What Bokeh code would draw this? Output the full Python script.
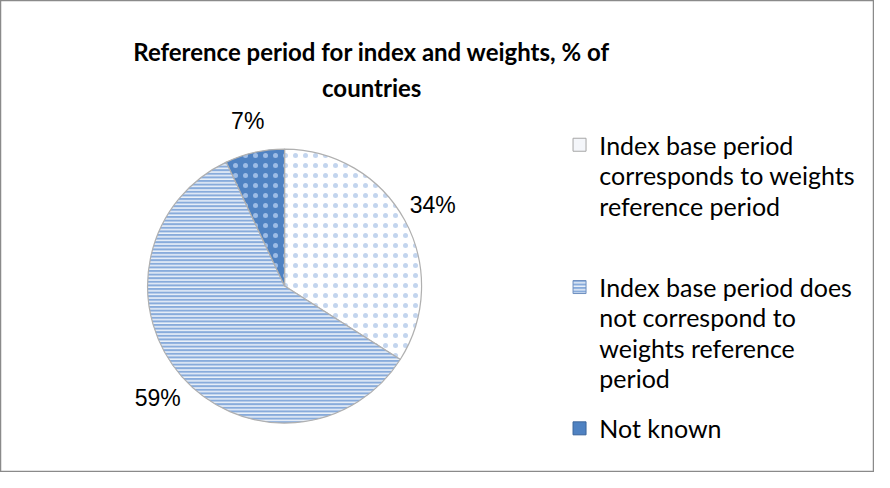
import math
from bokeh.plotting import figure
from bokeh.models import Range1d, ColumnDataSource
from bokeh.core.properties import value
from bokeh.embed import file_html
from bokeh.resources import INLINE

# ---- data ----
categories = [
    "Index base period corresponds to weights reference period",
    "Index base period does not correspond to weights reference period",
    "Not known",
]
shares = [34, 59, 7]
pct_labels = ["34%", "59%", "7%"]
legend_lines = [
    ["Index base period", "corresponds to weights", "reference period"],
    ["Index base period does", "not correspond to", "weights reference", "period"],
    ["Not known"],
]
title_lines = ["Reference period for index and weights, % of", "countries"]

# ---- styles ----
fill_colors = ["#ffffff", "#88abdb", "#4f82c2"]
hatch_patterns = ["dot", "horizontal_line", "dot"]
hatch_colors = ["#c3d5ee", "#ffffff", "#9dbce6"]
hatch_scales = [10, 3.6, 10]
hatch_weights = [1.0, 1.3, 1.0]

W, H = 874, 472
SX, SY = W / 883.0, H / 481.0
def dx(px):
    return (px - 3) * SX
def dy(py):
    return H - (py - 3) * SY

p = figure(width=W, height=H, output_backend="svg", toolbar_location=None,
           x_range=Range1d(0, W), y_range=Range1d(0, H), min_border=0,
           background_fill_color="white", border_fill_color="white")
p.axis.visible = False
p.grid.visible = False
p.outline_line_color = "#8a8a8a"
p.outline_line_width = 1.5

# ---- pie ----
cx, cy, R = dx(290), dy(294), 137
total = float(sum(shares))
starts, ends, mids = [], [], []
cum = 0.0
for s in shares:
    a0 = math.pi / 2 - 2 * math.pi * cum / total
    a1 = a0 - 2 * math.pi * s / total
    starts.append(a0)
    ends.append(a1)
    mids.append((a0 + a1) / 2)
    cum += s

src = ColumnDataSource(dict(
    x=[cx] * 3, y=[cy] * 3, start=starts, end=ends,
    fill=fill_colors, hp=hatch_patterns, hc=hatch_colors, hs=hatch_scales, hw=hatch_weights,
))
p.wedge(x="x", y="y", radius=R, start_angle="end", end_angle="start",
        fill_color="fill", hatch_pattern="hp", hatch_color="hc",
        hatch_scale="hs", hatch_weight="hw",
        line_color="#b0b0b0", line_width=1.2, source=src)

# percentage labels
lr = 169
lx = [cx + lr * math.cos(m) for m in mids]
ly = [cy + lr * math.sin(m) for m in mids]
p.text(x=lx, y=ly, text=pct_labels, text_font=value("Liberation Sans"),
       text_font_size="23px", text_color="#000000",
       text_align="center", text_baseline="middle")

# ---- title ----
p.text(x=[dx(378)] * 2, y=[dy(55), dy(92)], text=title_lines,
       text_font=value("Lato"), text_font_style="bold",
       text_font_size="24px", text_color="#000000",
       text_align="center", text_baseline="alphabetic")

# ---- legend ----
entry_y = [150, 295, 439]
line_gap = 31
mk_x, tx_x = dx(588), dx(608)
mk_fill = ["#f4f6fa", "#88abdb", "#4f82c2"]
mk_line = ["#a6a6a6", "#6f8fbf", "#3b659c"]
p.rect(x=[mk_x] * 3, y=[dy(v) for v in entry_y], width=13, height=13,
       fill_color=mk_fill, line_color=mk_line, line_width=1,
       hatch_pattern=["blank", "horizontal_line", "blank"],
       hatch_color="white", hatch_scale=3.5, hatch_weight=1.2)
txs, tys, tts = [], [], []
for ey, lines in zip(entry_y, legend_lines):
    for i, t in enumerate(lines):
        txs.append(tx_x)
        tys.append(dy(ey + i * line_gap))
        tts.append(t)
p.text(x=txs, y=tys, text=tts, text_font=value("Lato"),
       text_font_size="25px", text_color="#000000",
       text_align="left", text_baseline="middle")

open("out.html", "w").write(file_html(p, INLINE))
